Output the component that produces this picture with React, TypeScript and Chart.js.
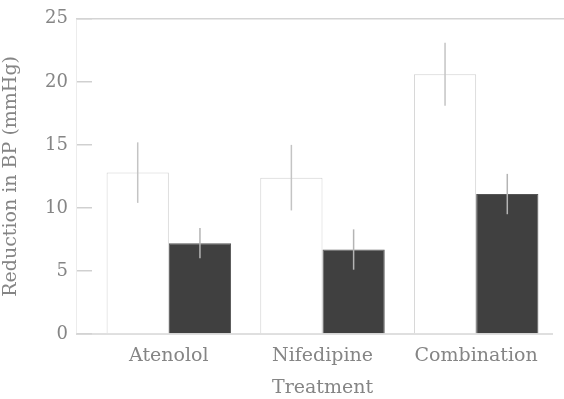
import React, { useEffect, useRef } from "react";
import { Chart, registerables } from "chart.js";

Chart.register(...registerables);

const categories = ["Atenolol", "Nifedipine", "Combination"];
const systolic = [12.8, 12.4, 20.6];
const systolicErr = [2.4, 2.6, 2.5];
const diastolic = [7.2, 6.7, 11.1];
const diastolicErr = [1.2, 1.6, 1.6];
const yTicks = [0, 5, 10, 15, 20, 25];

const TEXT = "#858585";
const FONT = "'DejaVu Serif', serif";
const TICK_LEN = 16;

const errorBars = {
  id: "errorBars",
  afterDatasetsDraw(chart: any) {
    const ctx = chart.ctx;
    const y = chart.scales.y;
    chart.data.datasets.forEach((ds: any, i: number) => {
      const meta = chart.getDatasetMeta(i);
      meta.data.forEach((bar: any, j: number) => {
        const v = ds.data[j];
        const e = ds.errors[j];
        ctx.save();
        ctx.strokeStyle = ds.errColor;
        ctx.lineWidth = 1.5;
        ctx.beginPath();
        ctx.moveTo(bar.x, y.getPixelForValue(v + e));
        ctx.lineTo(bar.x, y.getPixelForValue(v - e));
        ctx.stroke();
        ctx.restore();
      });
    });
  },
};

const frame = {
  id: "frame",
  beforeDatasetsDraw(chart: any) {
    const ctx = chart.ctx;
    const { top, bottom, right, left } = chart.chartArea;
    const ax = left - TICK_LEN;
    ctx.save();
    ctx.lineWidth = 1;
    ctx.strokeStyle = "#ececec";
    ctx.beginPath();
    ctx.moveTo(ax + 0.5, top);
    ctx.lineTo(ax + 0.5, bottom);
    ctx.stroke();
    ctx.strokeStyle = "#d4d4d4";
    ctx.lineWidth = 1.5;
    ctx.beginPath();
    ctx.moveTo(ax, top);
    ctx.lineTo(chart.width, top);
    ctx.stroke();
    ctx.beginPath();
    ctx.moveTo(ax, bottom);
    ctx.lineTo(right, bottom);
    ctx.stroke();
    ctx.restore();
  },
};

export default function App() {
  const ref = useRef<HTMLCanvasElement>(null);
  useEffect(() => {
    document.body.style.margin = "0";
    const chart = new Chart(ref.current!, {
      type: "bar",
      data: {
        labels: categories,
        datasets: [
          {
            label: "Systolic",
            data: systolic,
            errors: systolicErr,
            errColor: "#c4c4c4",
            backgroundColor: "#ffffff",
            borderColor: "#d2d2d2",
            borderWidth: 1,
            categoryPercentage: 0.81,
            barPercentage: 1.0,
          } as any,
          {
            label: "Diastolic",
            data: diastolic,
            errors: diastolicErr,
            errColor: "#b4b4b4",
            backgroundColor: "#404040",
            borderColor: "#555555",
            borderWidth: 1,
            categoryPercentage: 0.81,
            barPercentage: 1.0,
          } as any,
        ],
      },
      options: {
        responsive: false,
        animation: false,
        layout: { padding: { top: 16, right: 11, left: 0, bottom: 0 } },
        plugins: { legend: { display: false }, tooltip: { enabled: false } },
        scales: {
          x: {
            grid: { display: false, drawTicks: false },
            border: { display: false },
            ticks: { color: TEXT, font: { family: FONT, size: 19 }, padding: 11 },
            title: {
              display: true,
              text: "Treatment",
              color: TEXT,
              font: { family: FONT, size: 19 },
              padding: { top: 0, bottom: 0 },
            },
            afterFit(scale: any) {
              scale.height = 65;
            },
          },
          y: {
            min: 0,
            max: 25,
            afterBuildTicks(scale: any) {
              scale.ticks = yTicks.map((v) => ({ value: v }));
            },
            grid: {
              drawOnChartArea: false,
              drawTicks: true,
              tickLength: TICK_LEN,
              color: "#d0d0d0",
              lineWidth: 1.5,
            },
            border: { display: false },
            ticks: { color: TEXT, font: { family: FONT, size: 18 }, padding: 8 },
            title: {
              display: true,
              text: "Reduction in BP (mmHg)",
              color: TEXT,
              font: { family: FONT, size: 19 },
              padding: { top: 0, bottom: 6 },
            },
            afterFit(scale: any) {
              scale.width = 92;
            },
          },
        },
      },
      plugins: [frame, errorBars],
    });
    return () => chart.destroy();
  }, []);
  return (
    <div style={{ width: 564, height: 399, background: "#fff" }}>
      <canvas ref={ref} width={564} height={399} />
    </div>
  );
}
